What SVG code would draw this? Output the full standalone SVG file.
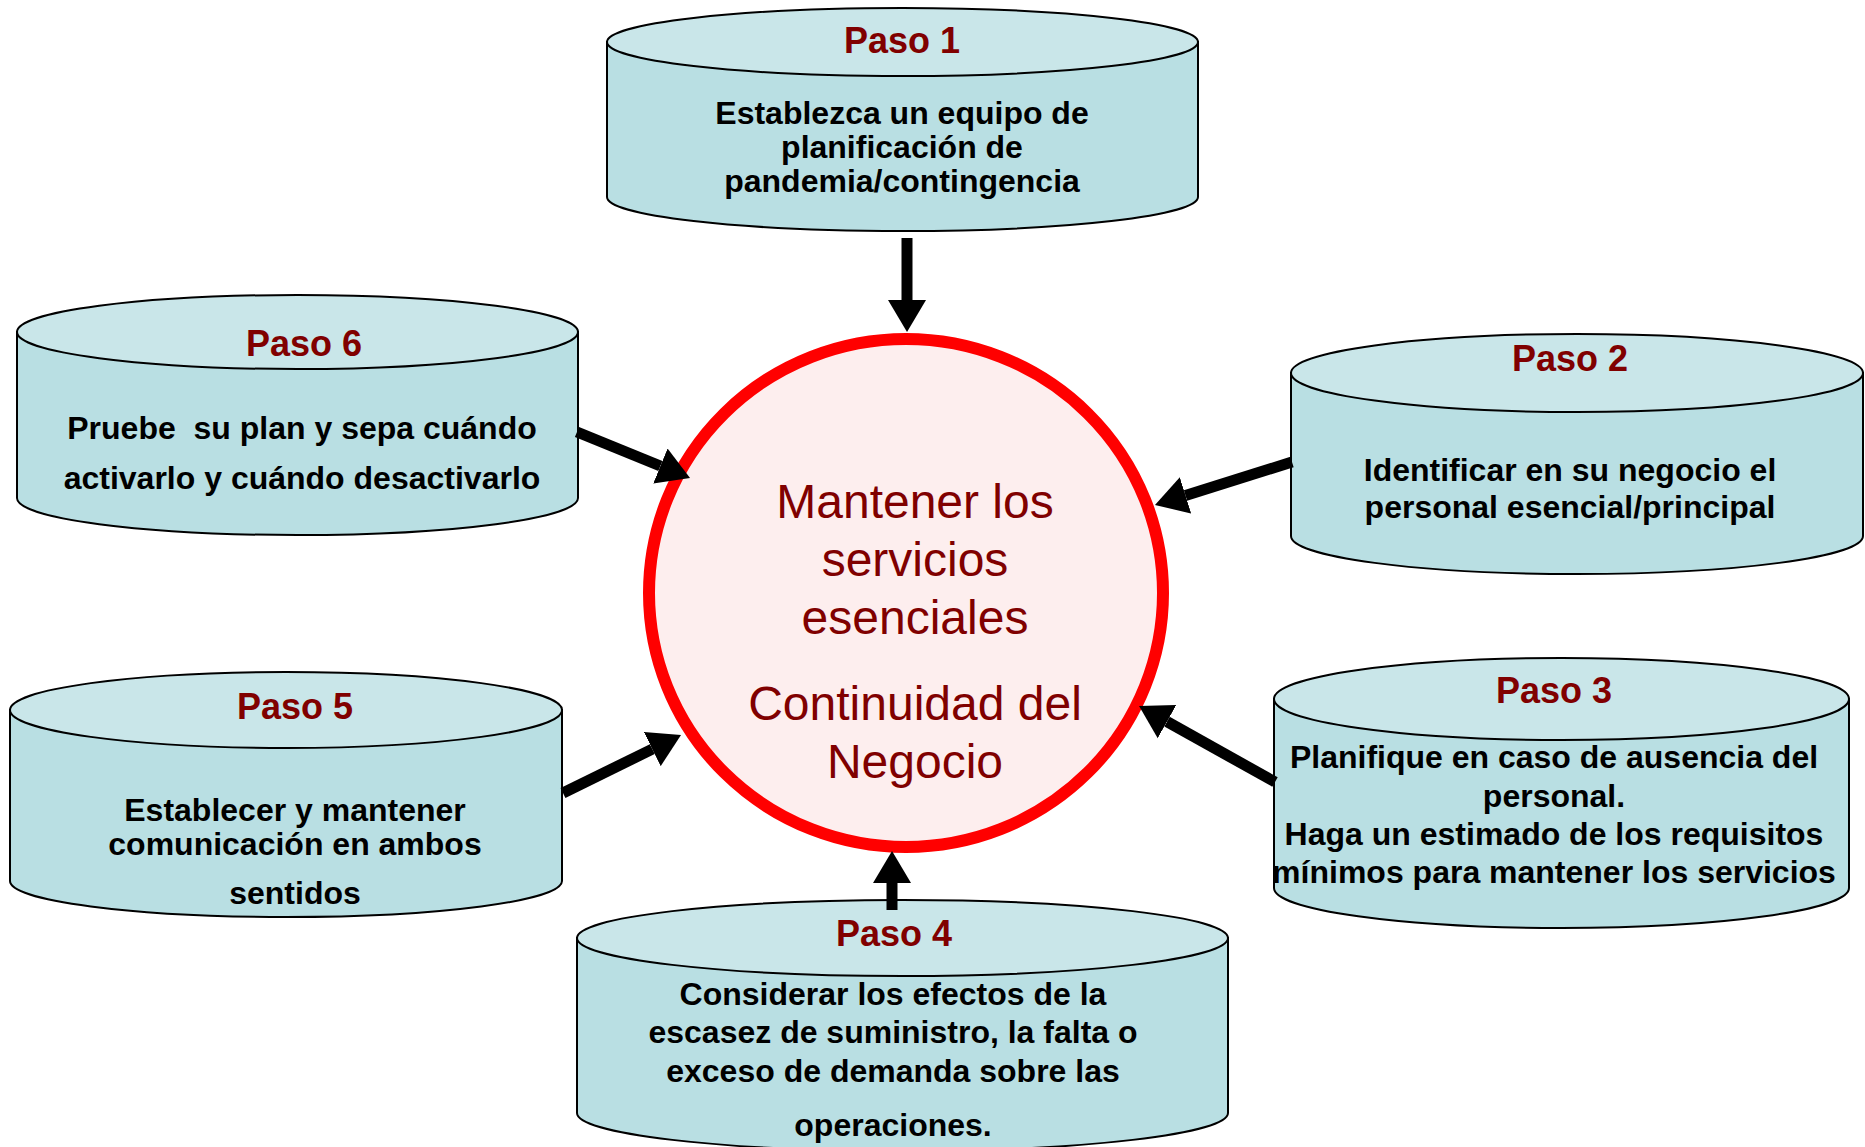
<svg xmlns="http://www.w3.org/2000/svg" width="1865" height="1147" viewBox="0 0 1865 1147">
<style>
.body{fill:#B9DFE3;stroke:#000;stroke-width:2}
.top{fill:#C9E6E9;stroke:#000;stroke-width:2}
.ttl{font-family:"Liberation Sans",Arial,sans-serif;font-weight:bold;font-size:36px;fill:#800000;text-anchor:middle}
.txt{font-family:"Liberation Sans",Arial,sans-serif;font-weight:bold;font-size:32px;fill:#000;text-anchor:middle;white-space:pre}
.ctr{font-family:"Liberation Sans",Arial,sans-serif;font-size:48px;fill:#800000;text-anchor:middle}
.arr{stroke:#000;stroke-width:11;fill:none;marker-end:url(#ah)}
</style>
<defs>
<marker id="ah" markerUnits="userSpaceOnUse" markerWidth="32" markerHeight="39" viewBox="0 0 32 38" refX="0" refY="19" orient="auto">
<path d="M0,0 L32,19 L0,38 Z" fill="#000"/>
</marker>
</defs>
<rect width="1865" height="1147" fill="#fff"/>

<g id="center">
<ellipse cx="906" cy="593" rx="257" ry="254" fill="#FDEEEE" stroke="#FF0000" stroke-width="12"/>
<text class="ctr" x="915" y="518">Mantener los</text>
<text class="ctr" x="915" y="576">servicios</text>
<text class="ctr" x="915" y="634">esenciales</text>
<text class="ctr" x="915" y="720">Continuidad del</text>
<text class="ctr" x="915" y="778">Negocio</text>
</g>

<g id="paso1">
<path class="body" d="M607,42 L607,197 A295.5,34 0 0 0 1198,197 L1198,42 Z"/>
<ellipse class="top" cx="902.5" cy="42" rx="295.5" ry="34"/>
<text class="ttl" x="902" y="53">Paso 1</text>
<text class="txt" x="902" y="124">Establezca un equipo de</text>
<text class="txt" x="902" y="158">planificación de</text>
<text class="txt" x="902" y="192">pandemia/contingencia</text>
</g>

<g id="paso2">
<path class="body" d="M1291,373 L1291,536 A286,38 0 0 0 1863,536 L1863,373 Z"/>
<ellipse class="top" cx="1577" cy="373" rx="286" ry="39"/>
<text class="ttl" x="1570" y="371">Paso 2</text>
<text class="txt" x="1570" y="481">Identificar en su negocio el</text>
<text class="txt" x="1570" y="518">personal esencial/principal</text>
</g>

<g id="paso3">
<path class="body" d="M1274,699 L1274,888 A287.5,40 0 0 0 1849,888 L1849,699 Z"/>
<ellipse class="top" cx="1561.5" cy="699" rx="287.5" ry="41"/>
<text class="ttl" x="1554" y="703">Paso 3</text>
<text class="txt" x="1554" y="768">Planifique en caso de ausencia del</text>
<text class="txt" x="1554" y="807">personal.</text>
<text class="txt" x="1554" y="845">Haga un estimado de los requisitos</text>
<text class="txt" x="1554" y="883">mínimos para mantener los servicios</text>
</g>

<g id="paso4">
<path class="body" d="M577,938 L577,1113 A325.5,38 0 0 0 1228,1113 L1228,938 Z"/>
<ellipse class="top" cx="902.5" cy="938" rx="325.5" ry="38"/>
<text class="ttl" x="894" y="946">Paso 4</text>
<text class="txt" x="893" y="1005">Considerar los efectos de la</text>
<text class="txt" x="893" y="1043">escasez de suministro, la falta o</text>
<text class="txt" x="893" y="1082">exceso de demanda sobre las</text>
<text class="txt" x="893" y="1136">operaciones.</text>
</g>

<g id="paso5">
<path class="body" d="M10,710 L10,881 A276,36 0 0 0 562,881 L562,710 Z"/>
<ellipse class="top" cx="286" cy="710" rx="276" ry="38"/>
<text class="ttl" x="295" y="719">Paso 5</text>
<text class="txt" x="295" y="821">Establecer y mantener</text>
<text class="txt" x="295" y="855">comunicación en ambos</text>
<text class="txt" x="295" y="904">sentidos</text>
</g>

<g id="paso6">
<path class="body" d="M17,332 L17,498 A280.5,37 0 0 0 578,498 L578,332 Z"/>
<ellipse class="top" cx="297.5" cy="332" rx="280.5" ry="37"/>
<text class="ttl" x="304" y="356">Paso 6</text>
<text class="txt" x="302" y="439">Pruebe  su plan y sepa cuándo</text>
<text class="txt" x="302" y="489">activarlo y cuándo desactivarlo</text>
</g>

<g id="connectors">
<line class="arr" x1="907" y1="238" x2="907" y2="300"/>
<line class="arr" x1="1292" y1="462" x2="1185.5" y2="495.4"/>
<line class="arr" x1="1275" y1="782" x2="1167" y2="721.6"/>
<line class="arr" x1="892" y1="910" x2="892" y2="883"/>
<line class="arr" x1="563" y1="793" x2="652.3" y2="749.1"/>
<line class="arr" x1="577" y1="432" x2="660.4" y2="466"/>
</g>
</svg>
